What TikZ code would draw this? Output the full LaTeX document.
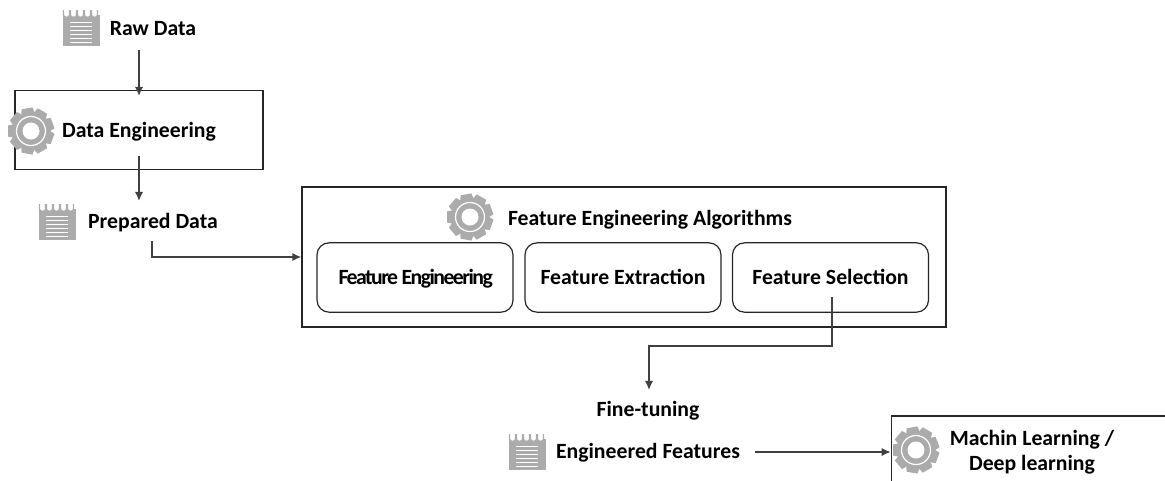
\documentclass[tikz,border=0pt]{standalone}
\usepackage{fontspec}
\setmainfont{Carlito}
\usetikzlibrary{arrows.meta}
\usepackage{xcolor}
\definecolor{icongray}{HTML}{ABABAB}
\definecolor{linegray}{HTML}{404040}

\begin{document}
\begin{tikzpicture}[x=.75pt, y=-.75pt, font=\fontsize{16.3}{19}\selectfont\bfseries]
\tikzset{mybox/.style={draw=black!85, line width=.9pt, inner sep=0pt, align=center} }
\tikzset{myround/.style={mybox, rounded corners=9pt, minimum width=147pt, minimum height=52pt, text height=12pt, text depth=2.2pt} }
\tikzset{mytext/.style={inner sep=0pt, align=center, text height=12pt, text depth=2.2pt} }
\tikzset{myarrow/.style={draw=linegray, line width=1.2pt, -{Latex[width=2.2mm,length=2.4mm]}} }
\tikzset{gearicon/.pic={
  \foreach \a in {0,40,...,320} {\fill[icongray, rotate=\a+10] (-5.5,-23) -- (5.5,-23) -- (7.5,-14) -- (-7.5,-14) -- cycle;}
  \fill[icongray] (0,0) circle (18);
  \draw[white, line width=.9pt] (0,0) circle (14.5);
  \fill[white] (0,0) circle (8.5);
} }
\tikzset{padicon/.pic={
  \fill[icongray] (-18.5,-13) rectangle (18.5,18);
  \foreach \x in {-14.5,-7.5,-0.5,6.5,13.5} {
    \fill[white] (\x-3,-13.5) .. controls (\x-3,-10) and (\x+3,-10) .. (\x+3,-13.5) -- cycle;
    \draw[icongray, line width=.9pt] (\x-3,-18) -- (\x-3,-13) .. controls (\x-3,-10) and (\x+3,-10) .. (\x+3,-13) -- (\x+3,-18);
  }
  \foreach \y in {-6,-2,...,14} {\draw[white, line width=.7pt] (-11,\y) -- (11,\y);}
} }
\useasboundingbox (0,0) rectangle (1165,480);
\clip (0,0) rectangle (1165,480);

% left column
\node[mytext] (raw) at (153,28.5) {Raw Data};
\node[mybox, minimum width=186pt, minimum height=59pt] (dataeng) at (139,130) {};
\node[mytext] (dataengtxt) at (139,130.5) {Data Engineering};
\node[mytext] (prep) at (153,221.5) {Prepared Data};

% algorithms block
\node[mybox, minimum width=483pt, minimum height=105pt] (algo) at (624,257) {};
\node[mytext] (algotxt) at (650,218.5) {Feature Engineering Algorithms};
\node[myround] (fe) at (415,277.5) {\addfontfeature{LetterSpace=-7}\hspace{1pt}Feature Engineering};
\node[myround] (fx) at (623,277.5) {Feature Extraction};
\node[myround] (fs) at (830.5,277.5) {Feature Selection};

% bottom row
\node[mytext] (tune) at (648,409.5) {Fine-tuning};
\node[mytext] (feat) at (648,451.5) {Engineered Features};
\node[mybox, minimum width=211pt, minimum height=54pt] (ml) at (1032,452) {Machin Learning /\\Deep learning};

% icons
\pic at (81,28) {padicon};
\pic at (57,222) {padicon};
\pic at (527,452) {padicon};
\pic at (31,131) {gearicon};
\pic at (470,217) {gearicon};
\pic at (916,450) {gearicon};

% free ends of the arrows
\coordinate (rawout) at (139,50);
\coordinate (dataout) at (139,156);
\coordinate (dataend) at (139,201);
\coordinate (prepout) at (152,241);
\coordinate (fsout) at (832,297);
\coordinate (tuneend) at (649,390);
\coordinate (featout) at (755,452);

\draw[myarrow] (rawout) -- (139,96);
\draw[myarrow] (dataout) -- (dataend);
\draw[myarrow] (prepout) |- (algo.west);
\draw[myarrow] (fsout) -- (832,346) -- (649,346) -- (tuneend);
\draw[myarrow] (featout) -- (ml.west);
\end{tikzpicture}
\end{document}
